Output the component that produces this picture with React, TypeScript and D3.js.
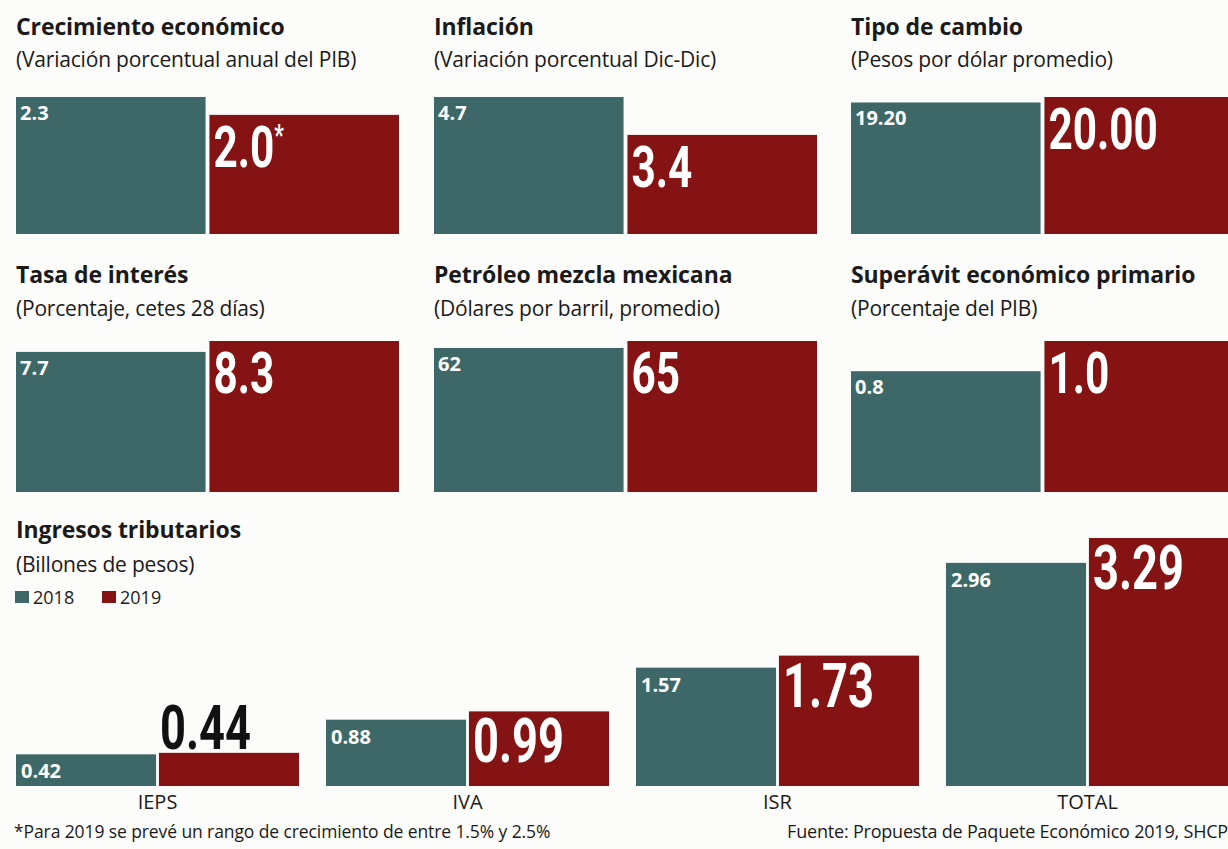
import { useEffect, useRef } from "react";
import * as d3 from "d3";

// Six small panels: 2018 vs 2019
const panelTitles = [
  "Crecimiento económico",
  "Inflación",
  "Tipo de cambio",
  "Tasa de interés",
  "Petróleo mezcla mexicana",
  "Superávit económico primario",
];
const panelSubtitles = [
  "(Variación porcentual anual del PIB)",
  "(Variación porcentual Dic-Dic)",
  "(Pesos por dólar promedio)",
  "(Porcentaje, cetes 28 días)",
  "(Dólares por barril, promedio)",
  "(Porcentaje del PIB)",
];
const values2018 = [2.3, 4.7, 19.2, 7.7, 62, 0.8];
const values2019 = [2.0, 3.4, 20.0, 8.3, 65, 1.0];
const labels2018 = ["2.3", "4.7", "19.20", "7.7", "62", "0.8"];
const labels2019 = ["2.0*", "3.4", "20.00", "8.3", "65", "1.0"];

const years = ["2018", "2019"];

// Bottom panel: tax revenue
const taxTitle = "Ingresos tributarios";
const taxSubtitle = "(Billones de pesos)";
const taxCategories = ["IEPS", "IVA", "ISR", "TOTAL"];
const tax2018 = [0.42, 0.88, 1.57, 2.96];
const tax2019 = [0.44, 0.99, 1.73, 3.29];
const taxLabels2018 = ["0.42", "0.88", "1.57", "2.96"];
const taxLabels2019 = ["0.44", "0.99", "1.73", "3.29"];

const footnote = "*Para 2019 se prevé un rango de crecimiento de entre 1.5% y 2.5%";
const source = "Fuente: Propuesta de Paquete Económico 2019, SHCP";

const W = 1228;
const H = 849;
const TEAL = "#3e6868";
const RED = "#861313";
const INK = "#1b1a1a";
const SANS = "'Open Sans', 'DejaVu Sans', sans-serif";
const BIG = "Roboto, 'DejaVu Sans', sans-serif";

const colX = [16, 434, 851];
const panelW = 383;
const rows = [
  { titleY: 35, subY: 67, top: 97, bottom: 234 },
  { titleY: 283, subY: 316, top: 341, bottom: 492 },
];

// big condensed number, drawn with a horizontal squeeze
function bigLabel(
  g: d3.Selection<SVGGElement, unknown, null, undefined>,
  text: string,
  x: number,
  y: number,
  size: number,
  color: string,
) {
  const [main, star] = text.split("*");
  const t = g
    .append("text")
    .attr("transform", `translate(${x},${y}) scale(0.73,1)`)
    .attr("font-family", BIG)
    .attr("font-weight", 700)
    .attr("font-size", size)
    .attr("fill", color)
    .text(main);
  if (star !== undefined) {
    t.append("tspan")
      .attr("font-size", size * 0.5)
      .attr("dy", -size * 0.38)
      .text("*");
  }
}

const App = () => {
  const svgRef = useRef<SVGSVGElement>(null);

  useEffect(() => {
    if (!svgRef.current) return;
    const svg = d3.select(svgRef.current);
    svg.selectAll("*").remove();

    svg.append("rect").attr("width", W).attr("height", H).attr("fill", "#fcfcfa");

    // small panels
    panelTitles.forEach((title, i) => {
      const row = rows[Math.floor(i / 3)];
      const x0 = colX[i % 3];
      const g = svg.append("g");

      g.append("text")
        .attr("x", x0)
        .attr("y", row.titleY)
        .attr("font-family", SANS)
        .attr("font-weight", 700)
        .attr("font-size", 23)
        .attr("fill", INK)
        .attr("letter-spacing", -0.1)
        .text(title);
      g.append("text")
        .attr("x", x0)
        .attr("y", row.subY)
        .attr("font-family", SANS)
        .attr("font-size", 21)
        .attr("fill", INK)
        .attr("letter-spacing", -0.2)
        .text(panelSubtitles[i]);

      const x = d3
        .scaleBand<string>()
        .domain(years)
        .range([x0, x0 + panelW])
        .paddingInner(0.02);
      const y = d3
        .scaleLinear()
        .domain([0, Math.max(values2018[i], values2019[i])])
        .range([row.bottom, row.top]);

      const v18 = values2018[i];
      const v19 = values2019[i];
      g.append("rect")
        .attr("x", x("2018")!)
        .attr("y", y(v18))
        .attr("width", x.bandwidth())
        .attr("height", y(0) - y(v18))
        .attr("fill", TEAL);
      g.append("rect")
        .attr("x", x("2019")!)
        .attr("y", y(v19))
        .attr("width", x.bandwidth())
        .attr("height", y(0) - y(v19))
        .attr("fill", RED);

      g.append("text")
        .attr("x", x("2018")! + 4)
        .attr("y", y(v18) + 23)
        .attr("font-family", SANS)
        .attr("font-weight", 700)
        .attr("font-size", 20)
        .attr("fill", "#fff")
        .text(labels2018[i]);
      bigLabel(g, labels2019[i], x("2019")! + 4, y(v19) + 52, 58, "#fff");
    });

    // tax revenue panel
    const tg = svg.append("g");
    tg.append("text")
      .attr("x", 16)
      .attr("y", 538)
      .attr("font-family", SANS)
      .attr("font-weight", 700)
      .attr("font-size", 23)
      .attr("fill", INK)
      .attr("letter-spacing", -0.1)
      .text(taxTitle);
    tg.append("text")
      .attr("x", 16)
      .attr("y", 572)
      .attr("font-family", SANS)
      .attr("font-size", 21)
      .attr("fill", INK)
      .attr("letter-spacing", -0.2)
      .text(taxSubtitle);

    // legend
    const legend = tg
      .selectAll("g.legend")
      .data(years)
      .enter()
      .append("g")
      .attr("transform", (_, i) => `translate(${15 + i * 87},591)`);
    legend
      .append("rect")
      .attr("width", 14)
      .attr("height", 12)
      .attr("fill", (_, i) => (i === 0 ? TEAL : RED));
    legend
      .append("text")
      .attr("x", 18)
      .attr("y", 12.5)
      .attr("font-family", SANS)
      .attr("font-size", 18)
      .attr("fill", INK)
      .text((d) => d);

    const gx = d3
      .scaleBand<string>()
      .domain(taxCategories)
      .range([16, 1229])
      .paddingInner(0.087);
    const bx = d3
      .scaleBand<string>()
      .domain(years)
      .range([0, gx.bandwidth()])
      .paddingInner(0.02);
    const ty = d3
      .scaleLinear()
      .domain([0, d3.max(tax2019)!])
      .range([786, 538]);

    taxCategories.forEach((cat, i) => {
      const gx0 = gx(cat)!;
      const a = tax2018[i];
      const b = tax2019[i];
      tg.append("rect")
        .attr("x", gx0 + bx("2018")!)
        .attr("y", ty(a))
        .attr("width", bx.bandwidth())
        .attr("height", ty(0) - ty(a))
        .attr("fill", TEAL);
      tg.append("rect")
        .attr("x", gx0 + bx("2019")!)
        .attr("y", ty(b))
        .attr("width", bx.bandwidth())
        .attr("height", ty(0) - ty(b))
        .attr("fill", RED);
      tg.append("text")
        .attr("x", gx0 + bx("2018")! + 5)
        .attr("y", ty(a) + 24)
        .attr("font-family", SANS)
        .attr("font-weight", 700)
        .attr("font-size", 20)
        .attr("fill", "#fff")
        .text(taxLabels2018[i]);
      const h = ty(0) - ty(b);
      if (h < 60) {
        bigLabel(tg, taxLabels2019[i], gx0 + bx("2019")! + 1, ty(b) - 4, 62, "#111");
      } else {
        bigLabel(tg, taxLabels2019[i], gx0 + bx("2019")! + 4, ty(b) + 51, 62, "#fff");
      }
      tg.append("text")
        .attr("x", gx0 + gx.bandwidth() / 2)
        .attr("y", 809)
        .attr("text-anchor", "middle")
        .attr("font-family", SANS)
        .attr("font-size", 20)
        .attr("fill", INK)
        .text(cat);
    });

    svg
      .append("text")
      .attr("x", 14)
      .attr("y", 838)
      .attr("font-family", SANS)
      .attr("font-size", 17.5)
      .attr("fill", INK)
      .attr("letter-spacing", -0.1)
      .text(footnote);
    svg
      .append("text")
      .attr("x", 1228)
      .attr("y", 838)
      .attr("text-anchor", "end")
      .attr("font-family", SANS)
      .attr("font-size", 18)
      .attr("fill", INK)
      .attr("letter-spacing", -0.2)
      .text(source);
  }, []);

  return (
    <svg
      ref={svgRef}
      width={W}
      height={H}
      style={{ position: "absolute", left: 0, top: 0, display: "block" }}
    ></svg>
  );
};

export default App;
